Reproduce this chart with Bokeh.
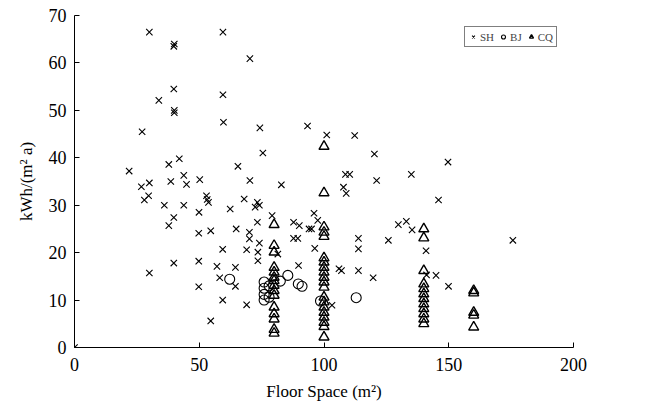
from bokeh.plotting import figure
from bokeh.models import Range1d, Legend, LegendItem, FixedTicker
from bokeh.embed import file_html
from bokeh.resources import INLINE

# Floor space (m2) and annual energy use intensity kWh/(m2 a) per household
sh_x = [0, 21.9, 26.8, 30.0, 28.0, 29.7, 27.1, 30.0, 33.8, 39.8, 40.0, 39.8, 40.0, 40.0,
        37.8, 42.0, 43.8, 44.9, 38.6, 50.2, 36.0, 43.8, 49.9, 52.9, 53.7, 53.2, 62.4, 64.8,
        39.8, 37.8, 49.8, 54.6, 59.4, 30.0, 39.8, 49.8, 57.1, 64.5, 58.2, 64.5, 49.8, 59.4,
        54.6, 59.5, 59.5, 59.7, 65.5, 70.3, 74.3, 93.4, 101.1, 112.3, 75.5, 120.2, 108.6,
        110.3, 70.3, 121.1, 82.9, 107.8, 108.9, 68.0, 73.3, 72.4, 74.1, 79.2, 73.3, 70.1,
        70.1, 74.1, 87.8, 90.1, 96.0, 97.5, 94.0, 95.0, 87.8, 89.5, 96.3, 113.8, 113.8,
        125.8, 129.8, 69.0, 73.5, 73.5, 81.5, 89.8, 106.0, 107.0, 113.8, 119.7, 69.0, 103.2,
        135.0, 149.7, 145.9, 133.0, 135.3, 175.7, 140.9, 141.1, 144.9, 149.9]
sh_y = [0, 37.2, 33.9, 34.7, 31.1, 32.0, 45.5, 66.5, 52.1, 63.5, 64.0, 54.5, 49.5, 50.0,
        38.6, 39.8, 36.3, 34.4, 35.0, 35.4, 30.0, 30.0, 28.5, 32.0, 30.6, 31.2, 29.2, 25.0,
        27.4, 25.7, 24.1, 24.6, 20.7, 15.7, 17.8, 18.2, 17.1, 16.9, 14.7, 12.9, 12.8, 10.0,
        5.6, 66.5, 53.3, 47.5, 38.2, 60.9, 46.3, 46.7, 44.8, 44.7, 41.0, 40.8, 36.5,
        36.5, 35.2, 35.2, 34.3, 33.8, 32.5, 31.3, 30.6, 29.6, 30.0, 27.8, 26.4, 24.3,
        22.9, 22.0, 26.4, 25.7, 28.3, 26.8, 25.0, 25.0, 23.0, 23.0, 20.9, 23.0, 20.8,
        22.6, 25.9, 20.6, 20.1, 18.3, 19.7, 17.3, 16.6, 16.2, 16.2, 14.7, 9.0, 8.9,
        36.5, 39.1, 31.1, 26.6, 24.8, 22.6, 20.4, 15.3, 15.2, 12.9]

bj_x = [62.2, 76.0, 76.0, 76.0, 76.0, 78.0, 78.0, 82.5, 85.5, 89.7, 91.2, 98.6, 112.9]
bj_y = [14.4, 13.8, 12.5, 11.2, 10.0, 13.0, 10.6, 14.0, 15.2, 13.4, 12.9, 9.8, 10.5]

cq_x = ([80] * 15 + [100] * 20 + [140] * 12 + [160] * 5)
cq_y = ([25.9, 21.5, 20.1, 16.9, 15.9, 14.8, 14.1, 13.1, 12.0, 11.0, 8.5, 7.1, 6.0, 3.8, 3.0] +
        [42.4, 32.6, 25.4, 24.3, 23.4, 18.9, 18.0, 16.9, 15.9, 14.8, 13.8, 12.7, 10.6, 9.6,
         8.5, 7.4, 6.4, 5.3, 4.4, 2.2] +
        [25.0, 23.1, 16.2, 13.4, 12.4, 11.3, 10.3, 9.2, 8.2, 7.1, 6.0, 5.0] +
        [12.0, 11.5, 7.4, 6.8, 4.3])

x_ticks = [0, 50, 100, 150, 200]
y_ticks = [0, 10, 20, 30, 40, 50, 60, 70]

FONT = "Liberation Serif"
INK = "#000000"

p = figure(width=668, height=408, output_backend="svg", toolbar_location=None,
           x_range=Range1d(0, 200), y_range=Range1d(0, 70),
           min_border_left=74, min_border_right=95, min_border_top=15, min_border_bottom=61)
p.outline_line_color = None
p.xgrid.visible = False
p.ygrid.visible = False
p.background_fill_color = "white"
p.border_fill_color = "white"

sh = p.scatter(sh_x, sh_y, marker="x", size=9, line_color=INK, line_width=1.1)
bj = p.scatter(bj_x, bj_y, marker="circle", size=10, fill_color=None, line_color=INK, line_width=1.1)
cq = p.scatter(cq_x, cq_y, marker="triangle", size=10, fill_color=None, line_color=INK, line_width=1.4)

for ax, ticks in ((p.xaxis[0], x_ticks), (p.yaxis[0], y_ticks)):
    ax.ticker = FixedTicker(ticks=ticks)
    ax.major_tick_in = 5
    ax.major_tick_out = 0
    ax.minor_tick_line_color = None
    ax.axis_line_color = INK
    ax.major_tick_line_color = INK
    ax.major_label_text_font = FONT
    ax.major_label_text_font_size = "18px"
    ax.major_label_text_color = INK
    ax.axis_label_text_font = FONT
    ax.axis_label_text_font_size = "17px"
    ax.axis_label_text_font_style = "normal"
    ax.axis_label_text_color = INK

p.xaxis.axis_label = "Floor Space (m²)"
p.yaxis.axis_label = "kWh/(m² a)"
p.xaxis.major_label_standoff = 10
p.yaxis.major_label_standoff = 8
p.xaxis.axis_label_standoff = 8
p.yaxis.axis_label_standoff = 10

legend = Legend(items=[LegendItem(label="SH", renderers=[sh]),
                       LegendItem(label="BJ", renderers=[bj]),
                       LegendItem(label="CQ", renderers=[cq])],
                orientation="horizontal", location=(390, 300),
                label_text_font=FONT, label_text_font_size="11px", label_width=10,
                glyph_width=10, glyph_height=13, label_standoff=2, spacing=4,
                padding=3, margin=0, border_line_color=INK, border_line_width=1,
                background_fill_alpha=1)
p.add_layout(legend)

open("out.html", "w").write(file_html(p, INLINE))
